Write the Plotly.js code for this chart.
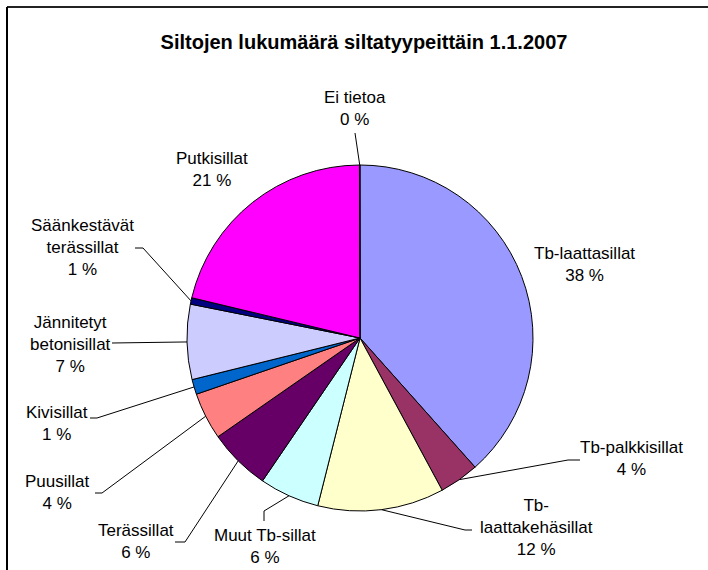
<!DOCTYPE html>
<html><head><meta charset="utf-8">
<script src="https://cdn.plot.ly/plotly-3.0.1.min.js"></script>
<style>html,body{margin:0;padding:0;background:#fff}#chart{width:708px;height:570px}</style>
</head><body><div id="chart"></div>
<script>
// ---- data ----
const categories = ['Tb-laattasillat','Tb-palkkisillat','Tb-laattakehäsillat','Muut Tb-sillat','Terässillat','Puusillat','Kivisillat','Jännitetyt betonisillat','Säänkestävät terässillat','Putkisillat','Ei tietoa'];
const shares = [38.4, 3.7, 11.8, 5.6, 5.8, 4.4, 1.4, 7.0, 0.6, 21.2, 0.05];
const labelLines = ['Tb-laattasillat','Tb-palkkisillat','Tb-<br>laattakehäsillat','Muut Tb-sillat','Terässillat','Puusillat','Kivisillat','Jännitetyt<br>betonisillat','Säänkestävät<br>terässillat','Putkisillat','Ei tietoa'];
const titleText = 'Siltojen lukumäärä siltatyypeittäin 1.1.2007';

// ---- styles / layout constants ----
const colors = ['#9999FF','#993366','#FFFFCC','#CCFFFF','#660066','#FF8080','#0066CC','#CCCCFF','#000080','#FF00FF','#FFFF00'];
const W = 708, H = 570;
const CX = 360, CY = 338, R = 173;
const FONT = 'Liberation Sans, Arial, sans-serif';
const labelPos = [[584,264],[631,459],[536,527],[265,546],[136,541],[58,492],[57,423],[70,344],[82,247],[212,169],[355,108]];
const leaderStarts = [null, [[580,460],[568,460]], [[472,530],[465,530]], [[264,521],[264,511]], [[175,542],[185,542]], [[95,493],[102,493]], [[90,418],[97,418]], [[112,343]], [[135,248],[143,248]], null, [[355,133]]];

const px = x => x / W;
const py = y => 1 - y / H;

const total = shares.reduce((a, b) => a + b, 0);
const annotations = [];
const shapes = [
  {type:'line', xref:'paper', yref:'paper', x0:px(7), x1:1, y0:py(7), y1:py(7), line:{color:'#222', width:2}},
  {type:'line', xref:'paper', yref:'paper', x0:px(7), x1:px(7), y0:0, y1:py(7), line:{color:'#000', width:2}}
];
let cum = 0;
shares.forEach((v, i) => {
  const frac = v / total;
  const mid = (cum + frac / 2) * 2 * Math.PI;
  cum += frac;
  const ex = CX + R * Math.sin(mid), ey = CY - R * Math.cos(mid);
  const pct = Math.round(frac * 100);
  annotations.push({
    xref:'paper', yref:'paper', x:px(labelPos[i][0]), y:py(labelPos[i][1]),
    xanchor:'center', yanchor:'middle', showarrow:false, align:'center',
    text: labelLines[i] + '<br>' + pct + ' %',
    font:{family:FONT, size:17, color:'#000'}
  });
  if (leaderStarts[i]) {
    const pts = leaderStarts[i].concat([[ex, ey]]);
    const path = pts.map((p, k) => (k ? 'L' : 'M') + px(p[0]) + ',' + py(p[1])).join(' ');
    shapes.push({type:'path', xref:'paper', yref:'paper', path:path, line:{color:'#000', width:1}});
  }
});

const trace = {
  type:'pie', labels:categories, values:shares, sort:false, direction:'clockwise', rotation:0,
  marker:{colors:colors, line:{color:'#000', width:1}},
  textinfo:'none', hoverinfo:'label+percent', showlegend:false,
  domain:{x:[px(CX - R), px(CX + R)], y:[py(CY + R), py(CY - R)]}
};

const layout = {
  width:W, height:H, margin:{l:0, r:0, t:0, b:0},
  paper_bgcolor:'#fff', plot_bgcolor:'#fff', showlegend:false,
  title:{text:titleText, x:364/W, y:1 - 42/H, xref:'container', yref:'container', xanchor:'center', yanchor:'middle',
         font:{family:FONT, size:20, weight:'bold', color:'#000'}},
  annotations:annotations, shapes:shapes
};
Plotly.newPlot('chart', [trace], layout, {staticPlot:true, displayModeBar:false});
</script>
</body></html>
